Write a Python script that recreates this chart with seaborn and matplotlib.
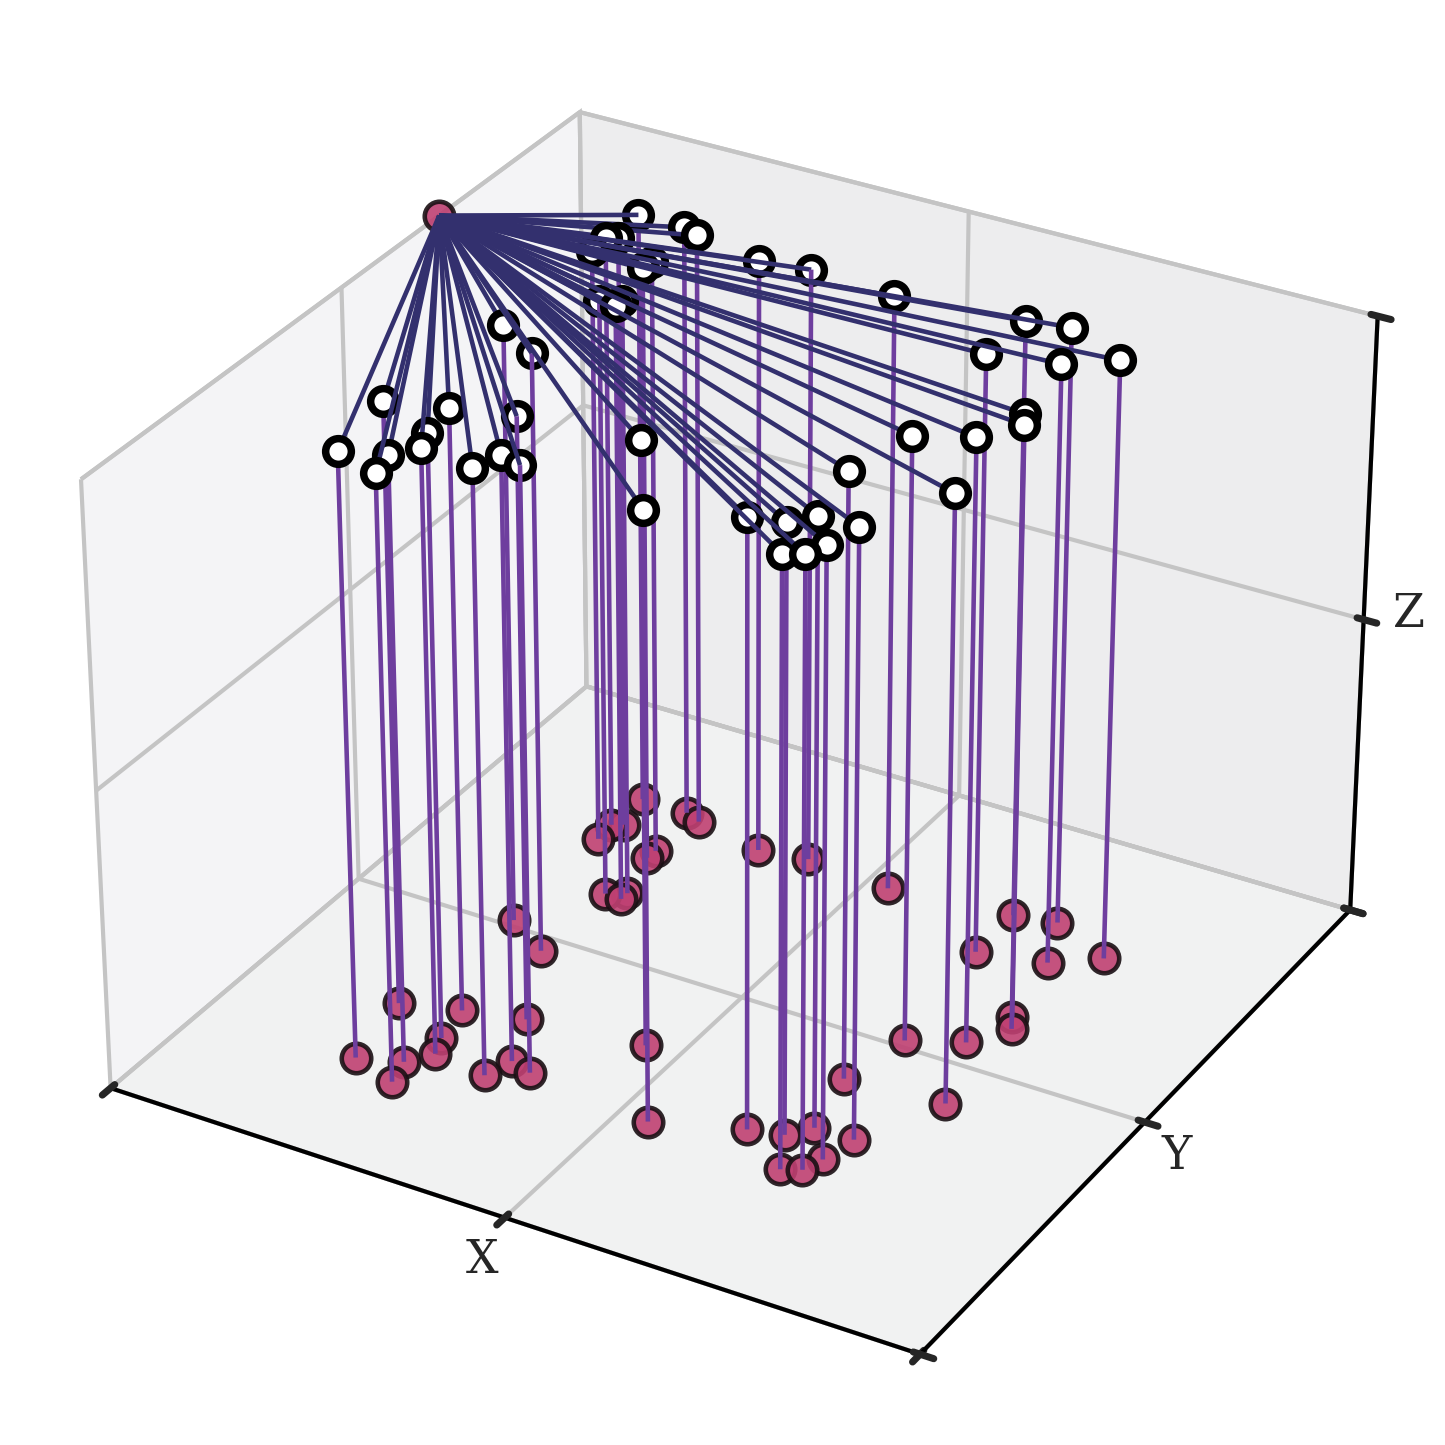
import numpy as np
import matplotlib
matplotlib.use('Agg')
import matplotlib.pyplot as plt
from mpl_toolkits.mplot3d.art3d import Line3DCollection
import seaborn as sns

# node positions, thousandths of the unit box
node_x = [197,257,247,179,257,268,247,337,348,377,318,198,258,537,458,637,706,677,727,698,736,746,678,698,797,758,777,788,678,678,758,728,808,528,419,360,270,248,189,260,259,199,187,190,258,279,279]
node_y = [184,163,203,301,264,234,323,224,263,253,343,512,472,234,363,274,225,285,236,313,264,314,413,513,425,543,614,592,712,801,732,812,771,781,791,780,800,810,811,720,702,751,744,710,612,625,611]
source_x = 0
source_y = 700
z_low = 0
z_high = 1
tick_vals = [0, 0.5, 1]
axis_names = ['X', 'Y', 'Z']

pink = '#bf4072'
edge = '#1a1014'
purple = '#6e3e9e'
navy = '#33306e'

sns.set_style('white')
plt.rcParams['font.family'] = ['DejaVu Serif']
plt.rcParams['lines.solid_capstyle'] = 'round'

fig = plt.figure(figsize=(1445/300, 1445/300), dpi=300)
ax = fig.add_axes([1.64/1445, 1.31/1445, 1441.4/1445, 1441.4/1445], projection='3d')

sx, sy = source_x/1000, source_y/1000
ax.scatter([sx], [sy], [z_high], s=50, c=pink, edgecolors=edge, linewidths=1.1, alpha=0.9, depthshade=False)
for xv, yv in zip(node_x, node_y):
    x, y = xv/1000, yv/1000
    ax.scatter([x], [y], [z_low], s=50, c=pink, edgecolors=edge, linewidths=1.1, alpha=0.9, depthshade=False)
    ax.add_collection3d(Line3DCollection([[(sx, sy, z_high), (x, y, z_high)]], colors=navy, linewidths=1.1))
    ax.add_collection3d(Line3DCollection([[(x, y, z_high), (x, y, z_low)]], colors=purple, linewidths=1.1))
    ax.scatter([x], [y], [z_high], s=38, c='white', edgecolors='black', linewidths=1.8, depthshade=False)

ax.set_xlim(0, 1, view_margin=0)
ax.set_ylim(0, 1, view_margin=0)
ax.set_zlim(0, 1, view_margin=0)
ax.view_init(elev=30.25, azim=-60)

ax.set_xticks(tick_vals)
ax.set_yticks(tick_vals)
ax.set_zticks(tick_vals)
ax.set_xticklabels([])
ax.set_yticklabels([])
ax.set_zticklabels([])
ax.tick_params(colors='#262626')

# tick names sit off the axis, placed by hand
for name, px, py in zip(axis_names, [482, 1177, 1409], [1273, 1169, 627]):
    fig.text(px/1445, 1 - py/1445, name, ha='center', va='baseline', fontsize=11, color='#262626')

ax.xaxis.set_pane_color('#f4f4f6')
ax.yaxis.set_pane_color('#ededee')
ax.zaxis.set_pane_color('#f1f2f2')
for axis in [ax.xaxis, ax.yaxis, ax.zaxis]:
    axis.pane.set_edgecolor('#c4c4c4')
    axis.pane.set_linewidth(1)
    axis.line.set_color('black')
    axis.line.set_linewidth(1)
    axis._axinfo['tick']['linewidth'] = {True: 1.7, False: 1}
    axis._axinfo['grid']['color'] = '#c4c4c4'
    axis._axinfo['grid']['linewidth'] = 1

fig.savefig('out.png', dpi=300)
